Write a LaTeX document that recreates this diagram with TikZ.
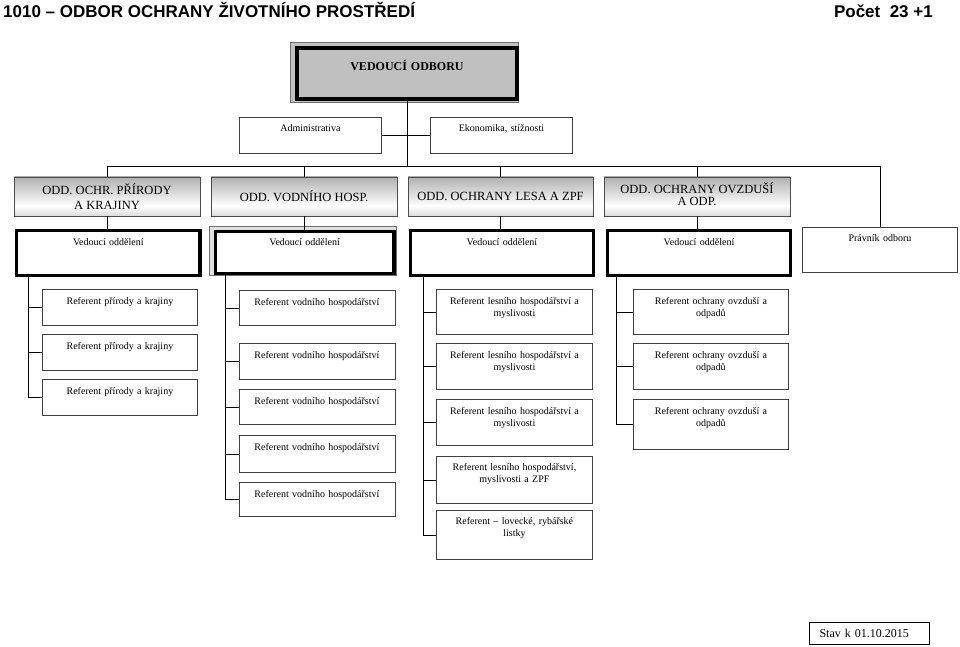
\documentclass[tikz,border=0pt]{standalone}
\usepackage{fontspec}
\setmainfont{Liberation Serif}
\newfontfamily\arialf{Liberation Sans}
\pgfdeclareverticalshading{deptsh}{100bp}{color(0bp)=(black!42); color(38bp)=(white); color(100bp)=(black!52)}
\definecolor{boxgray}{HTML}{C0C0C0}
\definecolor{edgegray}{HTML}{707070}
\begin{document}
\begin{tikzpicture}[x=1pt,y=1pt,
  conn/.style={draw=black, line width=0.9pt},
  refbox/.style={draw=black!75, line width=0.9pt, anchor=north west, inner sep=0pt,
    text height=15.5pt, align=center, font=\fontsize{10}{12}\selectfont},
  vedbox/.style={draw=black, line width=3.3pt, anchor=north west, inner sep=0pt, fill=white,
    text height=15pt, text depth=30.5pt, align=center, font=\fontsize{10}{12}\selectfont},
  deptbox/.style={draw=black!70, line width=0.8pt, shading=deptsh, inner sep=0pt,
    minimum height=39pt, align=center, font=\fontsize{12.5}{15}\selectfont},
  titletext/.style={inner sep=0pt, font=\arialf\bfseries\fontsize{17}{20}\selectfont}
]
\useasboundingbox (0,0) rectangle (960,-647);

% title
\node[titletext, anchor=base west] (title) at (3,-17.5) {1010 – ODBOR OCHRANY ŽIVOTNÍHO PROSTŘEDÍ};
\node[titletext, anchor=base east] (pocet) at (933,-17.5) {Počet~~23 +1};

% head
\draw[fill=boxgray, draw=edgegray, line width=1.2pt] (290.5,-42.5) rectangle (518.5,-102.5);
\node[draw=black, line width=4pt, fill=boxgray, anchor=north west, inner sep=0pt,
  text width=220pt, text height=22.5pt, text depth=28pt, align=center,
  font=\fontsize{12}{14}\selectfont\bfseries] (head) at (295,-46.5) {VEDOUCÍ ODBORU};

% staff boxes
\node[refbox, text width=142pt, text height=14.5pt, text depth=21.5pt] (admin) at (239,-117) {Administrativa};
\node[refbox, text width=142pt, text height=14.5pt, text depth=21.5pt] (ekon) at (430,-117) {Ekonomika, stížnosti};

% departments
\node[deptbox, minimum width=186pt] (d1) at (107,-196.5) {ODD. OCHR. PŘÍRODY\\A KRAJINY};
\node[deptbox, minimum width=186pt] (d2) at (304,-196.5) {ODD. VODNÍHO HOSP.};
\node[deptbox, minimum width=185pt] (d3) at (500.5,-196.5) {ODD. OCHRANY LESA A ZPF};
\node[deptbox, minimum width=186pt, font=\fontsize{12.5}{12.5}\selectfont] (d4) at (697,-196.5) {\raisebox{2pt}{\begin{tabular}{@{}c@{}}ODD. OCHRANY OVZDUŠÍ\\[-0.5pt]A ODP.\end{tabular}}};

% heads of departments
\node[vedbox, text width=183.3pt] (v1) at (15,-228.5) {Vedoucí oddělení};
\draw[fill=black!12, draw=edgegray, line width=1pt] (209.5,-226.5) rectangle (396,-275.5);
\node[vedbox, text width=178.6pt, text height=13.5pt, text depth=28.2pt] (v2) at (213.7,-230) {Vedoucí oddělení};
\node[vedbox, text width=182.7pt] (v3) at (409,-228.5) {Vedoucí oddělení};
\node[vedbox, text width=183.3pt] (v4) at (605.7,-228.5) {Vedoucí oddělení};
\node[refbox, text width=155pt, text height=14.5pt, text depth=30.5pt] (prav) at (802,-227) {Právník odboru};

% column 1
\node[refbox, text width=155pt, text depth=20.5pt] (r11) at (42,-289) {Referent přírody a krajiny};
\node[refbox, text width=155pt, text depth=20.5pt] (r12) at (42,-334) {Referent přírody a krajiny};
\node[refbox, text width=155pt, text depth=20.5pt] (r13) at (42,-379) {Referent přírody a krajiny};

% column 2
\node[refbox, text width=156pt, text depth=19.5pt] (r21) at (238.5,-290) {Referent vodního hospodářství};
\node[refbox, text width=156pt, text depth=20.5pt] (r22) at (238.5,-343) {Referent vodního hospodářství};
\node[refbox, text width=156pt, text depth=19.5pt] (r23) at (238.5,-389) {Referent vodního hospodářství};
\node[refbox, text width=156pt, text depth=21.5pt] (r24) at (238.5,-435) {Referent vodního hospodářství};
\node[refbox, text width=156pt, text depth=18.5pt] (r25) at (238.5,-482) {Referent vodního hospodářství};

% column 3
\node[refbox, text width=156pt, text depth=29.5pt] (r31) at (436,-289) {Referent lesního hospodářství a\\myslivosti};
\node[refbox, text width=156pt, text depth=30.5pt] (r32) at (436,-343) {Referent lesního hospodářství a\\myslivosti};
\node[refbox, text width=156pt, text depth=30.5pt] (r33) at (436,-399) {Referent lesního hospodářství a\\myslivosti};
\node[refbox, text width=156pt, text height=14.5pt, text depth=32.5pt] (r34) at (436,-456) {Referent lesního hospodářství,\\myslivosti a ZPF};
\node[refbox, text width=156pt, text height=14.5pt, text depth=34.5pt] (r35) at (436,-510) {Referent – lovecké, rybářské\\listky};

% column 4
\node[refbox, text width=155pt, text depth=29.5pt] (r41) at (633,-289) {Referent ochrany ovzduší a\\odpadů};
\node[refbox, text width=155pt, text depth=30.5pt] (r42) at (633,-343) {Referent ochrany ovzduší a\\odpadů};
\node[refbox, text width=155pt, text depth=34.5pt] (r43) at (633,-399) {Referent ochrany ovzduší a\\odpadů};

% status
\node[draw=black, line width=1pt, anchor=west, inner xsep=10pt, inner ysep=0pt,
  minimum height=22pt, text width=100pt, align=left, font=\fontsize{12}{14}\selectfont] (stav) at (809,-633) {Stav k 01.10.2015};

% connectors
\coordinate (busy) at (0,-166);
\coordinate (c1) at (28,0);
\coordinate (c2) at (225,0);
\coordinate (c3) at (423,0);
\coordinate (c4) at (616,0);

\draw[conn] (d1.north |- busy) -- (prav.north |- busy);
\draw[conn] (head.south) -- (head.south |- busy);
\draw[conn] (admin.east) -- (ekon.west);
\foreach \n in {d1,d2,d3,d4,prav} \draw[conn] (\n.north) -- (\n.north |- busy);
\foreach \a/\b in {d1/v1,d2/v2,d3/v3,d4/v4} \draw[conn] (\a.south) -- (\a.south |- \b.north);

\draw[conn] (v1.south -| c1) |- (r13.west);
\foreach \n in {r11,r12} \draw[conn] (\n.west) -- (\n.west -| c1);
\draw[conn] (v2.south -| c2) |- (r25.west);
\foreach \n in {r21,r22,r23,r24} \draw[conn] (\n.west) -- (\n.west -| c2);
\draw[conn] (v3.south -| c3) |- (r35.west);
\foreach \n in {r31,r32,r33,r34} \draw[conn] (\n.west) -- (\n.west -| c3);
\draw[conn] (v4.south -| c4) |- (r43.west);
\foreach \n in {r41,r42} \draw[conn] (\n.west) -- (\n.west -| c4);
\end{tikzpicture}
\end{document}
